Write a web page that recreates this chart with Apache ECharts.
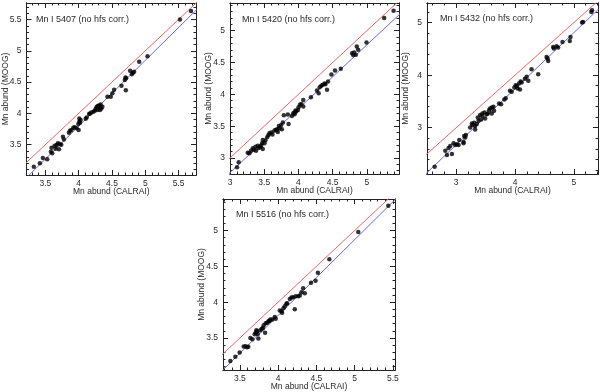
<!DOCTYPE html>
<html><head><meta charset="utf-8">
<script src="https://cdn.jsdelivr.net/npm/echarts@6/dist/echarts.min.js"></script>
<style>html,body{margin:0;padding:0;background:#fff}#c{width:600px;height:392px}</style>
</head><body><div id="c"></div>
<script>
// ---------- data ----------
const panelTitles = ['Mn I 5407 (no hfs corr.)', 'Mn I 5420 (no hfs corr.)', 'Mn I 5432 (no hfs corr.)', 'Mn I 5516 (no hfs corr.)'];
const xAxisName = 'Mn abund (CALRAI)';
const yAxisName = 'Mn abund (MOOG)';

const xRange1 = [3.217, 5.762], yRange1 = [3.016, 5.764];
const xRange2 = [3.0, 5.47],   yRange2 = [2.748, 5.436];
const xRange3 = [2.503, 5.412], yRange3 = [2.12, 5.373];
const xRange4 = [3.28, 5.528], yRange4 = [3.054, 5.44];

const xTicks1 = [3.5, 4, 4.5, 5, 5.5], yTicks1 = [3.5, 4, 4.5, 5, 5.5];
const xTicks2 = [3, 3.5, 4, 4.5, 5],   yTicks2 = [3, 3.5, 4, 4.5, 5];
const xTicks3 = [3, 4, 5],             yTicks3 = [3, 4, 5];
const xTicks4 = [3.5, 4, 4.5, 5, 5.5], yTicks4 = [3.5, 4, 4.5, 5];
const minorStep = [0.1, 0.1, 0.2, 0.1];

// one-to-one (red) and fitted (blue) lines
const redLine = [[2, 2], [6, 6]];
const blueLine1 = [[3.0, 2.745], [6.0, 5.898]];
const blueLine2 = [[2.9, 2.67], [5.6, 5.38]];
const blueLine3 = [[2.4, 2.036], [5.5, 5.341]];
const blueLine4 = [[3.2, 2.97], [5.6, 5.506]];

const stars1 = [[3.327,3.149],[3.418,3.203],[3.463,3.288],[3.528,3.266],[3.583,3.389],[3.593,3.452],[3.603,3.362],[3.639,3.484],[3.654,3.436],[3.669,3.495],[3.689,3.522],[3.704,3.426],[3.719,3.511],[3.739,3.500],[3.764,3.628],[3.779,3.585],[3.854,3.692],[3.869,3.724],[3.890,3.734],[3.920,3.771],[3.940,3.777],[3.970,3.761],[4.000,3.734],[3.995,3.830],[4.010,3.867],[4.030,3.894],[4.010,3.920],[4.020,3.851],[4.105,3.915],[4.120,3.936],[4.156,3.989],[4.171,4.000],[4.191,4.016],[4.221,4.027],[4.241,4.043],[4.256,4.074],[4.271,4.106],[4.291,4.117],[4.306,4.128],[4.316,4.096],[4.331,4.144],[4.341,4.080],[4.321,4.053],[4.356,4.106],[4.281,4.053],[4.432,4.266],[4.482,4.266],[4.507,4.324],[4.532,4.377],[4.643,4.440],[4.693,4.532],[4.703,4.574],[4.713,4.560],[4.708,4.372],[4.773,4.680],[4.798,4.627],[4.813,4.649],[4.833,4.665],[4.909,4.824],[5.034,4.914],[5.521,5.499],[5.687,5.637]];

const stars2 = [[3.103,2.853],[3.127,2.932],[3.259,3.084],[3.284,3.073],[3.308,3.115],[3.333,3.152],[3.347,3.131],[3.372,3.178],[3.381,3.115],[3.406,3.194],[3.416,3.157],[3.440,3.168],[3.455,3.194],[3.469,3.231],[3.479,3.283],[3.479,3.142],[3.504,3.231],[3.518,3.273],[3.543,3.325],[3.562,3.362],[3.577,3.388],[3.601,3.399],[3.621,3.367],[3.650,3.430],[3.670,3.441],[3.689,3.451],[3.699,3.409],[3.714,3.504],[3.724,3.467],[3.748,3.520],[3.758,3.451],[3.773,3.556],[3.787,3.672],[3.846,3.682],[3.856,3.535],[3.905,3.661],[3.924,3.703],[3.944,3.714],[3.944,3.688],[3.958,3.745],[3.968,3.730],[3.993,3.756],[4.002,3.798],[4.022,3.835],[4.042,3.850],[4.071,3.913],[4.071,3.808],[4.183,3.955],[4.271,4.060],[4.296,4.018],[4.311,4.113],[4.335,4.134],[4.355,4.150],[4.384,4.171],[4.394,4.160],[4.433,4.202],[4.418,4.071],[4.482,4.312],[4.535,4.375],[4.619,4.402],[4.785,4.648],[4.800,4.617],[4.814,4.659],[4.839,4.622],[4.853,4.753],[4.873,4.701],[4.995,4.816],[5.254,5.200],[5.391,5.315]];

const stars3 = [[2.633,2.259],[2.814,2.563],[2.842,2.481],[2.870,2.614],[2.898,2.652],[2.927,2.500],[2.955,2.703],[2.983,2.671],[3.011,2.684],[3.040,2.671],[3.051,2.766],[3.124,2.734],[3.136,2.842],[3.153,2.816],[3.164,2.861],[3.124,2.703],[3.237,3.006],[3.266,3.082],[3.277,3.051],[3.305,3.095],[3.322,2.968],[3.322,3.032],[3.350,3.070],[3.367,3.196],[3.379,3.133],[3.407,3.241],[3.424,3.158],[3.446,3.222],[3.446,3.272],[3.480,3.291],[3.492,3.177],[3.520,3.259],[3.537,3.272],[3.559,3.335],[3.576,3.367],[3.605,3.272],[3.605,3.386],[3.633,3.399],[3.644,3.323],[3.729,3.462],[3.763,3.449],[3.819,3.538],[3.842,3.563],[3.915,3.703],[3.944,3.684],[3.989,3.766],[4.011,3.810],[4.028,3.791],[4.045,3.747],[4.068,3.842],[4.096,3.880],[4.113,3.861],[4.085,3.728],[4.169,3.930],[4.198,3.968],[4.226,3.892],[4.282,4.114],[4.395,4.019],[4.537,4.348],[4.554,4.316],[4.565,4.272],[4.650,4.538],[4.661,4.506],[4.706,4.551],[4.734,4.525],[4.808,4.633],[4.932,4.652],[4.944,4.728],[5.141,5.000],[5.158,5.013],[5.299,5.203],[5.311,5.234]];

const stars4 = [[3.376,3.179],[3.441,3.239],[3.498,3.299],[3.550,3.382],[3.576,3.386],[3.594,3.370],[3.611,3.380],[3.638,3.502],[3.664,3.483],[3.694,3.552],[3.707,3.575],[3.725,3.594],[3.716,3.608],[3.734,3.557],[3.742,3.492],[3.769,3.608],[3.786,3.631],[3.803,3.640],[3.812,3.677],[3.830,3.575],[3.838,3.705],[3.856,3.714],[3.873,3.732],[3.882,3.737],[3.891,3.746],[3.900,3.760],[3.926,3.760],[3.956,3.792],[3.969,3.769],[4.022,3.885],[4.044,3.875],[4.052,3.852],[4.070,3.917],[4.087,3.945],[4.109,3.977],[4.118,3.986],[4.153,4.046],[4.175,4.065],[4.197,4.069],[4.218,3.900],[4.231,4.083],[4.262,4.083],[4.284,4.092],[4.306,4.138],[4.328,4.194],[4.349,4.125],[4.430,4.270],[4.490,4.300],[4.520,4.410],[4.670,4.600],[5.048,4.978],[5.441,5.347]];

// ---------- layout ----------
const gridRects = [
  {left: 26, top: 3, width: 170, height: 172},
  {left: 230, top: 3, width: 169, height: 171},
  {left: 427, top: 3, width: 171, height: 171},
  {left: 223, top: 199, width: 172, height: 172}
];
const titlePos = [[36, 16], [242, 16], [440, 15], [236, 211]];

const panels = [
  {xr: xRange1, yr: yRange1, xt: xTicks1, yt: yTicks1, blue: blueLine1, pts: stars1},
  {xr: xRange2, yr: yRange2, xt: xTicks2, yt: yTicks2, blue: blueLine2, pts: stars2},
  {xr: xRange3, yr: yRange3, xt: xTicks3, yt: yTicks3, blue: blueLine3, pts: stars3},
  {xr: xRange4, yr: yRange4, xt: xTicks4, yt: yTicks4, blue: blueLine4, pts: stars4}
];

function minorTicks(range, step, majors) {
  const out = [];
  for (let k = Math.ceil(range[0] / step - 1e-9); k * step <= range[1] + 1e-9; k++) {
    const v = Math.round(k * step * 1000) / 1000;
    if (!majors.some(m => Math.abs(m - v) < 1e-6)) out.push(v);
  }
  return out;
}

const FONT = 'Liberation Sans';
const FS = 8.5;
const TXT = '#2a2a2a';
const AX = '#222';

const grid = [], xAxis = [], yAxis = [], series = [], title = [];

panels.forEach((p, i) => {
  grid.push(Object.assign({}, gridRects[i]));
  const xMinor = minorTicks(p.xr, minorStep[i], p.xt);
  const yMinor = minorTicks(p.yr, minorStep[i], p.yt);
  const base = xAxis.length;
  const mkX = (pos, ticks, len, main) => ({
    type: 'value', gridIndex: i, position: pos, min: p.xr[0], max: p.xr[1],
    splitLine: {show: false},
    axisLine: {show: true, onZero: false, lineStyle: {color: AX, width: 1}},
    axisTick: {show: true, inside: true, length: len, customValues: ticks, lineStyle: {color: AX, width: 1}},
    axisLabel: main ? {show: true, customValues: p.xt, margin: 4, fontFamily: FONT, fontSize: FS, color: TXT} : {show: false},
    name: main ? xAxisName : '', nameLocation: 'middle', nameGap: 12, nameMoveOverlap: false,
    nameTextStyle: {fontFamily: FONT, fontSize: FS, color: TXT}
  });
  const mkY = (pos, ticks, len, main) => ({
    type: 'value', gridIndex: i, position: pos, min: p.yr[0], max: p.yr[1],
    splitLine: {show: false},
    axisLine: {show: true, onZero: false, lineStyle: {color: AX, width: 1}},
    axisTick: {show: true, inside: true, length: len, customValues: ticks, lineStyle: {color: AX, width: 1}},
    axisLabel: main ? {show: true, customValues: p.yt, margin: 5, fontFamily: FONT, fontSize: FS, color: TXT} : {show: false},
    name: main ? yAxisName : '', nameLocation: 'middle', nameGap: 16.5, nameRotate: 90, nameMoveOverlap: false,
    nameTextStyle: {fontFamily: FONT, fontSize: FS, color: TXT}
  });
  xAxis.push(mkX('bottom', p.xt, 5, true), mkX('bottom', xMinor, 2.5, false), mkX('top', p.xt, 5, false), mkX('top', xMinor, 2.5, false));
  yAxis.push(mkY('left', p.yt, 5, true), mkY('left', yMinor, 2.5, false), mkY('right', p.yt, 5, false), mkY('right', yMinor, 2.5, false));

  series.push({
    type: 'line', xAxisIndex: base, yAxisIndex: base, data: redLine, showSymbol: false, clip: true,
    lineStyle: {color: '#e06a6a', width: 1}, silent: true, z: 2
  }, {
    type: 'line', xAxisIndex: base, yAxisIndex: base, data: p.blue, showSymbol: false, clip: true,
    lineStyle: {color: '#6a6ae0', width: 1}, silent: true, z: 2
  }, {
    type: 'scatter', xAxisIndex: base, yAxisIndex: base, data: p.pts, symbolSize: 4.5,
    itemStyle: {color: '#000'}, z: 3
  });

  title.push({
    text: panelTitles[i], left: titlePos[i][0], top: titlePos[i][1] - 1, padding: 0,
    textStyle: {fontFamily: FONT, fontSize: 9, fontWeight: 'normal', color: TXT}
  });
});

const chart = echarts.init(document.getElementById('c'), null, {renderer: 'canvas'});
chart.setOption({animation: false, backgroundColor: '#fff', grid, xAxis, yAxis, series, title});
</script>
</body></html>
